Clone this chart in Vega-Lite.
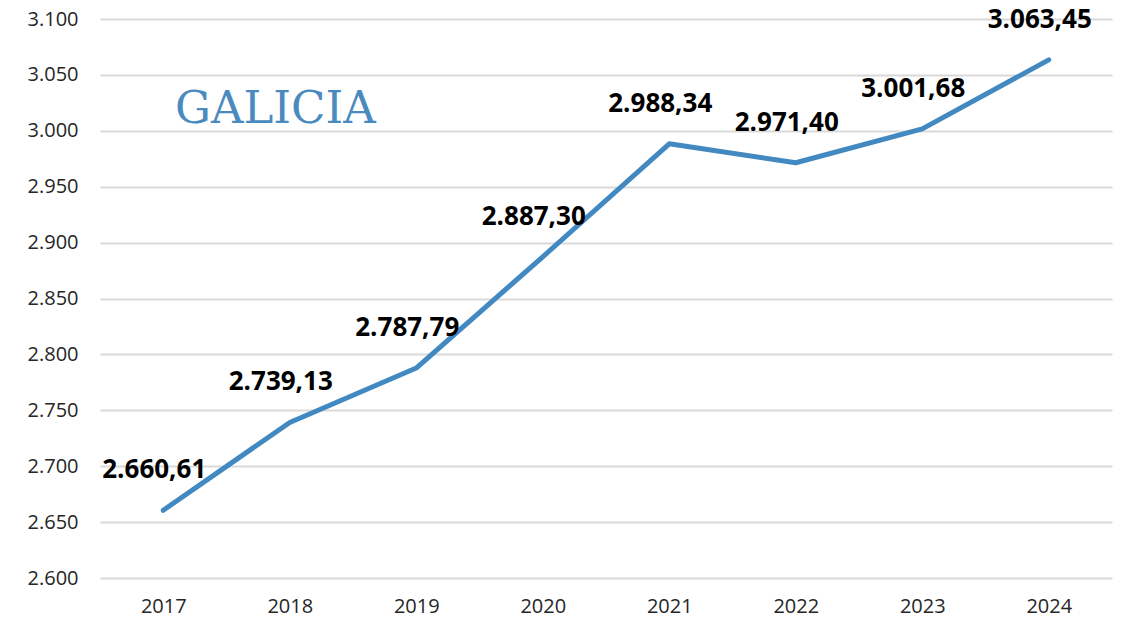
{
  "$schema": "https://vega.github.io/schema/vega-lite/v6.json",
  "width": 1012,
  "height": 559,
  "autosize": {"type": "none"},
  "padding": {"left": 100, "top": 19, "right": 10, "bottom": 42},
  "background": "white",
  "config": {
    "locale": {"number": {"decimal": ",", "thousands": ".", "grouping": [3], "currency": ["", " €"]}},
    "view": {"stroke": null},
    "font": "Open Sans"
  },
  "title": {
    "text": "GALICIA",
    "font": "DejaVu Serif",
    "fontSize": 45,
    "fontWeight": "normal",
    "color": "#4A8BBF",
    "anchor": "start",
    "frame": "group",
    "orient": "top",
    "baseline": "alphabetic",
    "offset": -161,
    "dx": 75
  },
  "data": {
    "values": [
      {"year": "2017", "value": 2660.61},
      {"year": "2018", "value": 2739.13},
      {"year": "2019", "value": 2787.79},
      {"year": "2020", "value": 2887.30},
      {"year": "2021", "value": 2988.34},
      {"year": "2022", "value": 2971.40},
      {"year": "2023", "value": 3001.68},
      {"year": "2024", "value": 3063.45}
    ]
  },
  "encoding": {
    "x": {
      "field": "year",
      "type": "ordinal",
      "scale": {"type": "point", "padding": 0.5},
      "axis": {
        "title": null,
        "labelAngle": 0,
        "labelFont": "Open Sans",
        "labelFontSize": 20,
        "labelColor": "#262626",
        "labelPadding": 18,
        "ticks": false,
        "domain": false,
        "grid": false
      }
    },
    "y": {
      "field": "value",
      "type": "quantitative",
      "scale": {"domain": [2600, 3100], "nice": false, "zero": false},
      "axis": {
        "title": null,
        "values": [2600, 2650, 2700, 2750, 2800, 2850, 2900, 2950, 3000, 3050, 3100],
        "format": ",d",
        "labelFont": "Open Sans",
        "labelFontSize": 20,
        "labelColor": "#262626",
        "labelPadding": 22,
        "ticks": false,
        "domain": false,
        "grid": true,
        "gridColor": "#D9D9D9",
        "gridWidth": 2
      }
    }
  },
  "layer": [
    {
      "mark": {"type": "line", "color": "#4189C0", "strokeWidth": 5, "strokeCap": "round", "strokeJoin": "round"}
    },
    {
      "mark": {"type": "text", "font": "Open Sans", "fontSize": 26, "fontWeight": "bold", "color": "#000000", "dy": -40, "dx": -9},
      "encoding": {
        "text": {"field": "value", "type": "quantitative", "format": ",.2f"}
      }
    }
  ]
}
